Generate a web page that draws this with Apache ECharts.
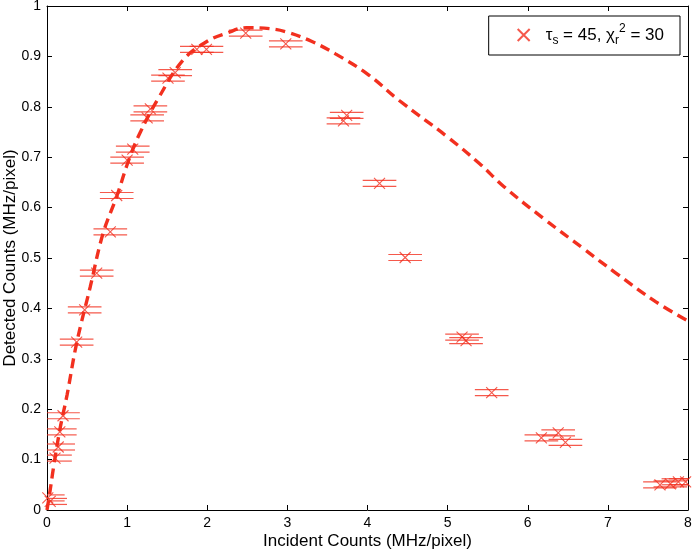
<!DOCTYPE html>
<html>
<head>
<meta charset="utf-8">
<script src="https://cdn.jsdelivr.net/npm/echarts@6/dist/echarts.min.js"></script>
<style>
html,body{margin:0;padding:0;background:#fff;}
#c{width:692px;height:551px;}
</style>
</head>
<body>
<div id="c"></div>
<script>
// Measured points (incident, detected) with horizontal error half-widths
var ptX = [0.01, 0.04, 0.10, 0.14, 0.16, 0.20, 0.37, 0.47, 0.62, 0.79, 0.87, 1.00, 1.07, 1.25, 1.29, 1.51, 1.60, 1.87, 1.99, 2.48, 2.98, 3.70, 3.74, 4.15, 4.47, 5.18, 5.23, 5.55, 6.17, 6.38, 6.47, 7.65, 7.78, 7.88, 7.97];
var ptY = [0.024, 0.017, 0.103, 0.125, 0.155, 0.187, 0.333, 0.397, 0.470, 0.552, 0.624, 0.694, 0.716, 0.778, 0.796, 0.857, 0.868, 0.914, 0.914, 0.946, 0.925, 0.772, 0.783, 0.648, 0.501, 0.343, 0.336, 0.233, 0.143, 0.153, 0.134, 0.050, 0.052, 0.056, 0.056];
var ptErr = [0.21, 0.21, 0.21, 0.21, 0.21, 0.21, 0.21, 0.21, 0.21, 0.21, 0.21, 0.21, 0.21, 0.21, 0.21, 0.21, 0.21, 0.21, 0.21, 0.21, 0.21, 0.21, 0.21, 0.21, 0.21, 0.21, 0.21, 0.21, 0.21, 0.21, 0.21, 0.21, 0.21, 0.21, 0.21];
// Model curve
var curveX = [0, 0.04, 0.08, 0.16, 0.25, 0.37, 0.54, 0.70, 0.87, 1.02, 1.16, 1.39, 1.70, 2.00, 2.24, 2.49, 2.78, 3.00, 3.30, 3.60, 4.00, 4.40, 5.00, 5.40, 5.70, 6.20, 6.70, 7.10, 7.60, 8.00];
var curveY = [0, 0.040, 0.083, 0.159, 0.228, 0.331, 0.443, 0.549, 0.622, 0.694, 0.748, 0.817, 0.893, 0.930, 0.946, 0.957, 0.955, 0.948, 0.930, 0.905, 0.865, 0.812, 0.740, 0.687, 0.642, 0.578, 0.518, 0.470, 0.413, 0.375];
var xTicks = [0, 1, 2, 3, 4, 5, 6, 7, 8];
var yTicks = [0, 0.1, 0.2, 0.3, 0.4, 0.5, 0.6, 0.7, 0.8, 0.9, 1];
var seriesName = 'tau';

var RED = '#f2301f';
var FONT = 'Liberation Sans';

var pts = ptX.map(function (x, i) { return [x, ptY[i]]; });
var bars = ptX.map(function (x, i) { return [x, ptY[i], ptErr[i]]; });
var curve = curveX.map(function (x, i) { return [x, curveY[i]]; });

var chart = echarts.init(document.getElementById('c'), null, {renderer: 'canvas'});

function axisBase(show, extra) {
  var o = {
    type: 'value',
    axisLine: {show: true, onZero: false, lineStyle: {color: '#000', width: 1}},
    axisTick: {show: true, inside: true, length: 5, lineStyle: {color: '#000'}},
    splitLine: {show: false},
    axisLabel: {show: show, color: '#000', fontFamily: FONT, fontSize: 14, margin: 6}
  };
  return Object.assign(o, extra);
}

var option = {
  backgroundColor: '#fff',
  animation: false,
  grid: {left: 47, right: 4, top: 6, bottom: 41, containLabel: false, outerBoundsMode: 'none'},
  legend: {
    show: true,
    data: [seriesName],
    right: 12,
    top: 16,
    orient: 'horizontal',
    backgroundColor: '#fff',
    borderColor: '#000',
    borderWidth: 1,
    padding: [7, 16, 8, 28],
    itemWidth: 12,
    itemHeight: 12,
    itemGap: 10,
    formatter: function () {
      return '{a|\u03c4}{sub|s}{a| = 45, \u03c7}{sub|r}{sup|2}{a| = 30}';
    },
    textStyle: {
      padding: [0, 0, 0, 11],
      rich: {
        a: {fontFamily: FONT, fontSize: 17, color: '#000'},
        sub: {fontFamily: FONT, fontSize: 12, color: '#000', verticalAlign: 'bottom', padding: [12, 0, 0, 0]},
        sup: {fontFamily: FONT, fontSize: 12, color: '#000', verticalAlign: 'top', padding: [0, 0, 12, 0]}
      }
    }
  },
  xAxis: [
    axisBase(true, {
      min: 0, max: 8, interval: 1, position: 'bottom',
      name: 'Incident Counts (MHz/pixel)', nameLocation: 'middle', nameGap: 23, nameMoveOverlap: false,
      nameTextStyle: {fontFamily: FONT, fontSize: 17, color: '#000'}
    }),
    axisBase(false, {position: 'top', min: 0, max: 8, interval: 1})
  ],
  yAxis: [
    axisBase(true, {
      min: 0, max: 1, interval: 0.1, position: 'left',
      name: 'Detected Counts (MHz/pixel)', nameLocation: 'middle', nameGap: 28, nameMoveOverlap: false,
      nameTextStyle: {fontFamily: FONT, fontSize: 17, color: '#000'}
    }),
    axisBase(false, {position: 'right', min: 0, max: 1, interval: 0.1})
  ],
  series: [
    {
      type: 'line',
      name: 'model',
      data: curve,
      smooth: 0.4,
      showSymbol: false,
      symbol: 'none',
      lineStyle: {color: RED, width: 3.4, type: [10, 6]},
      z: 3
    },
    {
      type: 'custom',
      name: 'errbars',
      data: bars,
      clip: true,
      z: 4,
      renderItem: function (params, api) {
        var x = api.value(0), y = api.value(1), e = api.value(2);
        var p1 = api.coord([x - e, y]);
        var p2 = api.coord([x + e, y]);
        var cs = params.coordSys;
        var lx = Math.max(p1[0], cs.x);
        var rx = Math.min(p2[0], cs.x + cs.width);
        var style = {stroke: RED, lineWidth: 1.2, opacity: 0.8};
        return {
          type: 'group',
          children: [
            {type: 'line', shape: {x1: lx, y1: p1[1] - 3, x2: rx, y2: p2[1] - 3}, style: style},
            {type: 'line', shape: {x1: lx, y1: p1[1] + 3, x2: rx, y2: p2[1] + 3}, style: style}
          ]
        };
      }
    },
    {
      type: 'scatter',
      name: seriesName,
      data: pts,
      symbol: 'path://M0,0L10,10M10,0L0,10',
      symbolSize: 11,
      itemStyle: {color: 'rgba(0,0,0,0)', borderColor: RED, borderWidth: 1.1},
      z: 5
    }
  ]
};
chart.setOption(option);
</script>
</body>
</html>
